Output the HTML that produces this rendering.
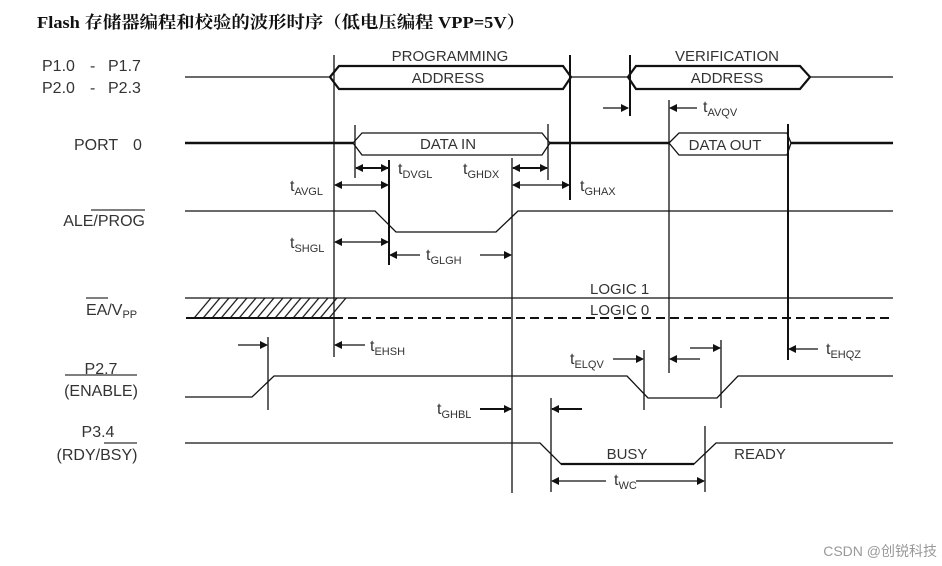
<!DOCTYPE html>
<html><head><meta charset="utf-8"><style>
html,body{margin:0;padding:0;background:#fff;}
svg{display:block;}
text{font-family:"Liberation Sans","Noto Sans CJK SC",sans-serif;fill:#333;}
</style></head><body>
<svg width="942" height="566" viewBox="0 0 942 566" xmlns="http://www.w3.org/2000/svg">
<defs>
<marker id="ar" markerWidth="8" markerHeight="8" refX="7" refY="4" orient="auto" markerUnits="userSpaceOnUse"><path d="M0,0 L8,4 L0,8 z" fill="#111"/></marker>
<marker id="al" markerWidth="8" markerHeight="8" refX="1" refY="4" orient="auto" markerUnits="userSpaceOnUse"><path d="M8,0 L0,4 L8,8 z" fill="#111"/></marker>
<pattern id="hatch" width="9" height="20" patternUnits="userSpaceOnUse" patternTransform="skewX(-40)"><line x1="2" y1="0" x2="2" y2="20" stroke="#111" stroke-width="1.6"/></pattern>
</defs>
<text x="37" y="28" textLength="488" lengthAdjust="spacingAndGlyphs" style="font-family:'Liberation Serif','Noto Serif CJK SC',serif;font-weight:bold;font-size:17px;fill:#111">Flash 存储器编程和校验的波形时序（低电压编程 VPP=5V）</text>

<g font-size="16">
<text x="42" y="71">P1.0</text><text x="90" y="71">-</text><text x="108" y="71">P1.7</text>
<text x="42" y="93">P2.0</text><text x="90" y="93">-</text><text x="108" y="93">P2.3</text>
<text x="74" y="150">PORT</text><text x="133" y="150">0</text>
<text x="145" y="226" text-anchor="end">ALE/PROG</text>
<text x="86" y="315">EA/V<tspan font-size="11" dy="3">PP</tspan></text>
<text x="101" y="374" text-anchor="middle">P2.7</text>
<text x="101" y="396" text-anchor="middle">(ENABLE)</text>
<text x="98" y="437" text-anchor="middle">P3.4</text>
<text x="97" y="460" text-anchor="middle">(RDY/BSY)</text>
</g>
<g stroke="#333" stroke-width="1.2">
<line x1="91" y1="210" x2="145" y2="210"/>
<line x1="86" y1="298" x2="108" y2="298"/>
<line x1="65" y1="375" x2="137" y2="375"/>
<line x1="104" y1="443" x2="137" y2="443"/>
</g>

<g fill="none" stroke="#111" stroke-width="1.3">
<line x1="185" y1="77" x2="330" y2="77"/>
<path d="M330,77 L339,66 L563,66 L571,77 L563,89 L339,89 Z" stroke-width="2.2"/>
<line x1="571" y1="77" x2="628" y2="77"/>
<path d="M628,77 L636,66 L800,66 L810,77 L800,89 L636,89 Z" stroke-width="2.2"/>
<line x1="810" y1="77" x2="893" y2="77"/>
<line x1="185" y1="143" x2="353" y2="143" stroke-width="2.4"/>
<path d="M353,143 L362,133 L542,133 L550,143 L542,155 L362,155 Z"/>
<line x1="550" y1="143" x2="669" y2="143" stroke-width="2.4"/>
<path d="M669,143 L679,133 L787,133 L791,143 L787,155 L679,155 Z"/>
<line x1="791" y1="143" x2="893" y2="143" stroke-width="2.4"/>
<path d="M185,211 L375,211 L396,232 L496,232 L518,211 L893,211"/>
<line x1="185" y1="298" x2="893" y2="298"/>
<line x1="334" y1="318" x2="893" y2="318" stroke-width="2" stroke-dasharray="9,5"/>
<line x1="186" y1="318" x2="334" y2="318" stroke-width="2"/>
<path d="M185,397 L252,397 L274,376 L627,376 L648,398 L717,398 L738,376 L893,376"/>
<path d="M185,443 L540,443 L561,464 L694,464 L716,443 L893,443"/>
<path d="M561,464 L694,464" stroke-width="2.2"/>
</g>
<polygon points="186,318 204,298 350,298 334,318" fill="url(#hatch)"/>

<g stroke="#111" stroke-width="1.3">
<line x1="334" y1="55" x2="334" y2="357"/>
<line x1="570" y1="55" x2="570" y2="200" stroke-width="2"/>
<line x1="630" y1="55" x2="630" y2="116" stroke-width="2"/>
<line x1="669" y1="100" x2="669" y2="373"/>
<line x1="355" y1="125" x2="355" y2="178"/>
<line x1="548" y1="124" x2="548" y2="180"/>
<line x1="788" y1="124" x2="788" y2="360" stroke-width="2"/>
<line x1="389" y1="160" x2="389" y2="265" stroke-width="2"/>
<line x1="512" y1="158" x2="512" y2="493"/>
<line x1="268" y1="337" x2="268" y2="410"/>
<line x1="644" y1="350" x2="644" y2="410"/>
<line x1="721" y1="340" x2="721" y2="408"/>
<line x1="551" y1="398" x2="551" y2="492"/>
<line x1="705" y1="426" x2="705" y2="492"/>
</g>

<g stroke="#111" stroke-width="1.3">
<line x1="603" y1="108" x2="628" y2="108" marker-end="url(#ar)"/>
<line x1="697" y1="108" x2="670" y2="108" marker-end="url(#ar)"/>
<line x1="356" y1="168" x2="388" y2="168" marker-start="url(#al)" marker-end="url(#ar)" stroke-width="2"/>
<line x1="513" y1="168" x2="547" y2="168" marker-start="url(#al)" marker-end="url(#ar)" stroke-width="2"/>
<line x1="335" y1="185" x2="388" y2="185" marker-start="url(#al)" marker-end="url(#ar)"/>
<line x1="513" y1="185" x2="569" y2="185" marker-start="url(#al)" marker-end="url(#ar)"/>
<line x1="335" y1="242" x2="388" y2="242" marker-start="url(#al)" marker-end="url(#ar)"/>
<line x1="390" y1="255" x2="511" y2="255" marker-start="url(#al)" marker-end="url(#ar)"/>
<line x1="365" y1="345" x2="335" y2="345" marker-end="url(#ar)"/>
<line x1="238" y1="345" x2="267" y2="345" marker-end="url(#ar)"/>
<line x1="613" y1="359" x2="643" y2="359" marker-end="url(#ar)"/>
<line x1="700" y1="359" x2="670" y2="359" marker-end="url(#ar)"/>
<line x1="690" y1="348" x2="720" y2="348" marker-end="url(#ar)"/>
<line x1="818" y1="349" x2="789" y2="349" marker-end="url(#ar)"/>
<line x1="480" y1="409" x2="511" y2="409" marker-end="url(#ar)" stroke-width="2"/>
<line x1="582" y1="409" x2="552" y2="409" marker-end="url(#ar)" stroke-width="2"/>
<line x1="552" y1="481" x2="704" y2="481" marker-start="url(#al)" marker-end="url(#ar)"/>
</g>
<rect x="606" y="472" width="30" height="16" fill="#fff"/>
<rect x="420" y="247" width="60" height="16" fill="#fff"/>

<g font-size="15">
<text x="450" y="61" text-anchor="middle">PROGRAMMING</text>
<text x="448" y="83" text-anchor="middle">ADDRESS</text>
<text x="727" y="61" text-anchor="middle">VERIFICATION</text>
<text x="727" y="83" text-anchor="middle">ADDRESS</text>
<text x="448" y="149" text-anchor="middle">DATA IN</text>
<text x="725" y="150" text-anchor="middle">DATA OUT</text>
<text x="590" y="294">LOGIC 1</text>
<text x="590" y="315">LOGIC 0</text>
<text x="627" y="459" text-anchor="middle">BUSY</text>
<text x="760" y="459" text-anchor="middle">READY</text>
</g>
<g font-size="16">
<text x="703" y="112">t<tspan font-size="11" dy="4">AVQV</tspan></text>
<text x="398" y="174">t<tspan font-size="11" dy="4">DVGL</tspan></text>
<text x="463" y="174">t<tspan font-size="11" dy="4">GHDX</tspan></text>
<text x="290" y="191">t<tspan font-size="11" dy="4">AVGL</tspan></text>
<text x="580" y="191">t<tspan font-size="11" dy="4">GHAX</tspan></text>
<text x="290" y="248">t<tspan font-size="11" dy="4">SHGL</tspan></text>
<text x="426" y="260">t<tspan font-size="11" dy="4">GLGH</tspan></text>
<text x="370" y="351">t<tspan font-size="11" dy="4">EHSH</tspan></text>
<text x="570" y="364">t<tspan font-size="11" dy="4">ELQV</tspan></text>
<text x="826" y="354">t<tspan font-size="11" dy="4">EHQZ</tspan></text>
<text x="437" y="414">t<tspan font-size="11" dy="4">GHBL</tspan></text>
<text x="614" y="485">t<tspan font-size="11" dy="4">WC</tspan></text>
</g>
<text x="937" y="556" text-anchor="end" font-size="14" style="fill:#999">CSDN @创锐科技</text>
</svg>
</body></html>
